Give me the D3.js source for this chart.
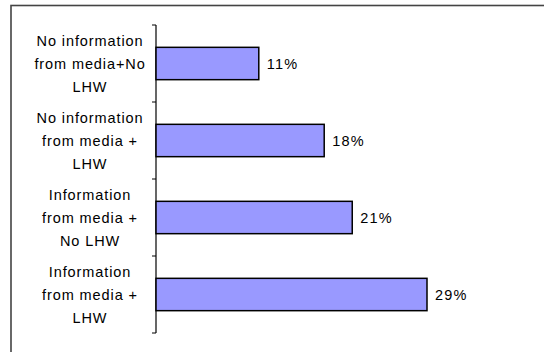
<!DOCTYPE html>
<html>
<head>
<meta charset="utf-8">
<script src="https://cdn.jsdelivr.net/npm/d3@7"></script>
<style>
  html, body { margin: 0; padding: 0; background: #fff; }
  svg { display: block; }
  text { font-family: "Liberation Sans", Arial, sans-serif; fill: #000; }
</style>
</head>
<body>
<svg id="chart" width="544" height="352"></svg>
<script>
// Share of respondents by information source
const categories = [
  ["No information", "from media+No", "LHW"],
  ["No information", "from media +", "LHW"],
  ["Information", "from media +", "No LHW"],
  ["Information", "from media +", "LHW"]
];
const values = [11, 18, 21, 29];
const valueLabels = ["11%", "18%", "21%", "29%"];

const svg = d3.select("#chart");

// outer frame (right and bottom edges run off the page)
svg.append("rect")
  .attr("x", 11).attr("y", 5.5)
  .attr("width", 560).attr("height", 400)
  .attr("fill", "none")
  .attr("stroke", "#444")
  .attr("stroke-width", 1.6);

const axisX = 156, plotTop = 25, plotBottom = 333;

const y = d3.scaleBand()
  .domain(d3.range(values.length))
  .range([plotTop, plotBottom])
  .paddingInner(0.58)
  .paddingOuter(0.29);

const x = d3.scaleLinear().domain([0, 29]).range([axisX, axisX + 271]);

// category axis
const axis = d3.axisLeft(y).tickSize(0).tickFormat("");
const gAxis = svg.append("g").attr("transform", `translate(${axisX},0)`).call(axis);
gAxis.select(".domain").remove();
gAxis.append("line")
  .attr("x1", 0).attr("x2", 0).attr("y1", plotTop).attr("y2", plotBottom)
  .attr("stroke", "#000").attr("stroke-width", 1.2);

// ticks between categories
const step = (plotBottom - plotTop) / values.length;
gAxis.selectAll(".sep")
  .data(d3.range(values.length + 1))
  .join("line")
  .attr("class", "sep")
  .attr("x1", -4).attr("x2", 0)
  .attr("y1", d => plotTop + d * step)
  .attr("y2", d => plotTop + d * step)
  .attr("stroke", "#000").attr("stroke-width", 1);

// bars
svg.append("g").selectAll("rect")
  .data(values)
  .join("rect")
  .attr("x", x(0))
  .attr("y", (d, i) => y(i))
  .attr("width", d => x(d) - x(0))
  .attr("height", y.bandwidth())
  .attr("fill", "#9999ff")
  .attr("stroke", "#000")
  .attr("stroke-width", 1.5);

// value labels
svg.append("g").selectAll("text")
  .data(values)
  .join("text")
  .attr("x", d => x(d) + 8)
  .attr("y", (d, i) => y(i) + y.bandwidth() / 2)
  .attr("dy", "0.36em")
  .attr("font-size", 14.5)
  .attr("letter-spacing", 1.2)
  .text((d, i) => valueLabels[i]);

// category labels
const lineGap = 23;
svg.append("g").selectAll("text")
  .data(categories)
  .join("text")
  .attr("x", 90)
  .attr("y", (d, i) => y(i) + y.bandwidth() / 2)
  .attr("text-anchor", "middle")
  .attr("font-size", 14.5)
  .attr("letter-spacing", 0.9)
  .each(function(lines) {
    const t = d3.select(this);
    lines.forEach((s, k) => {
      t.append("tspan")
        .attr("x", 90)
        .attr("dy", k === 0 ? `${-lineGap + 5}px` : `${lineGap}px`)
        .text(s);
    });
  });
</script>
</body>
</html>
